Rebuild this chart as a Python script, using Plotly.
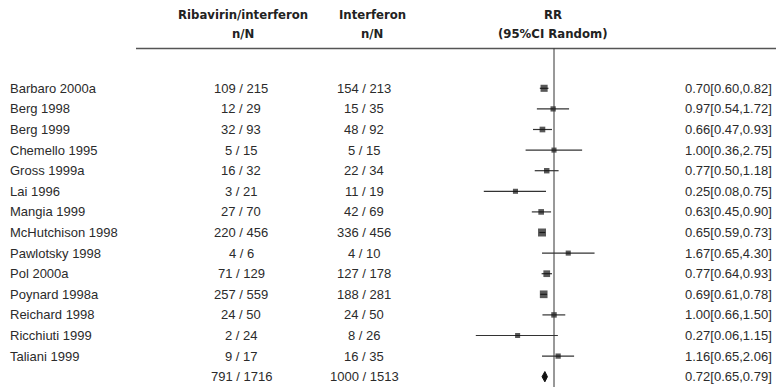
import math
import plotly.graph_objects as go

studies = ["Barbaro 2000a", "Berg 1998", "Berg 1999", "Chemello 1995", "Gross 1999a",
           "Lai 1996", "Mangia 1999", "McHutchison 1998", "Pawlotsky 1998", "Pol 2000a",
           "Poynard 1998a", "Reichard 1998", "Ricchiuti 1999", "Taliani 1999"]
rib_n = [109, 12, 32, 5, 16, 3, 27, 220, 4, 71, 257, 24, 2, 9]
rib_N = [215, 29, 93, 15, 32, 21, 70, 456, 6, 129, 559, 50, 24, 17]
ifn_n = [154, 15, 48, 5, 22, 11, 42, 336, 4, 127, 188, 24, 8, 16]
ifn_N = [213, 35, 92, 15, 34, 19, 69, 456, 10, 178, 281, 50, 26, 35]
rr = [0.70, 0.97, 0.66, 1.00, 0.77, 0.25, 0.63, 0.65, 1.67, 0.77, 0.69, 1.00, 0.27, 1.16]
rr_lo = [0.60, 0.54, 0.47, 0.36, 0.50, 0.08, 0.45, 0.59, 0.65, 0.64, 0.61, 0.66, 0.06, 0.65]
rr_hi = [0.82, 1.72, 0.93, 2.75, 1.18, 0.75, 0.90, 0.73, 4.30, 0.93, 0.78, 1.50, 1.15, 2.06]
pooled_rr = 0.72
pooled_lo = 0.65
pooled_hi = 0.79
headers = ["Ribavirin/interferon", "Interferon", "RR"]
subheaders = ["n/N", "n/N", "(95%CI Random)"]

W, H = 776, 387
X_ONE = 554.0       # pixel of RR = 1
PX_DEC = 64.0       # pixels per decade
ROW0 = 88.3         # pixel of first row
ROW_H = 20.6        # row spacing
LINE_Y = 48.5       # header rule

TXT = "#2b2b2b"
FONT = "Liberation Sans, Arial, sans-serif"
HFONT = "Liberation Sans Narrow, Arial Narrow, DejaVu Sans Condensed, sans-serif"

n = len(studies)
rows = list(range(n))
total_row = n

fig = go.Figure()

# CI lines
lx, ly = [], []
for i in rows:
    lx += [rr_lo[i], rr_hi[i], None]
    ly += [i, i, None]
fig.add_trace(go.Scatter(x=lx, y=ly, mode="lines", line=dict(color="#333333", width=1.2),
                         hoverinfo="skip"))

# box sizes from random-effects-like weights derived from CI widths
tau2 = 0.005
wts = []
for i in rows:
    se = (math.log(rr_hi[i]) - math.log(rr_lo[i])) / 3.92
    wts.append(1.0 / (se * se + tau2))
wmax = max(wts)
sizes = [5 + 3.0 * w / wmax for w in wts]

fig.add_trace(go.Scatter(x=rr, y=rows, mode="markers",
                         marker=dict(symbol="square", size=sizes, color="#111111",
                                     line=dict(width=0)),
                         hoverinfo="skip"))

# pooled diamond
dh = 0.25
fig.add_trace(go.Scatter(x=[pooled_lo, pooled_rr, pooled_hi, pooled_rr, pooled_lo],
                         y=[total_row, total_row - dh, total_row, total_row + dh, total_row],
                         mode="lines", fill="toself", fillcolor="#111111",
                         line=dict(color="#111111", width=1), hoverinfo="skip"))

def px(xp):
    return xp / W

def py(yp):
    return 1 - yp / H

ann = []
col_rib = 241
col_ifn = 364
for i in rows:
    yy = i
    ann.append(dict(x=px(8), y=yy, xref="paper", yref="y", text=studies[i],
                    xanchor="left", yanchor="middle", showarrow=False,
                    font=dict(family=FONT, size=13, color=TXT)))
    ann.append(dict(x=px(col_rib), y=yy, xref="paper", yref="y",
                    text=f"{rib_n[i]} / {rib_N[i]}", xanchor="center", yanchor="middle",
                    showarrow=False, font=dict(family=FONT, size=13, color=TXT)))
    ann.append(dict(x=px(col_ifn), y=yy, xref="paper", yref="y",
                    text=f"{ifn_n[i]} / {ifn_N[i]}", xanchor="center", yanchor="middle",
                    showarrow=False, font=dict(family=FONT, size=13, color=TXT)))
    ann.append(dict(x=px(683), y=yy, xref="paper", yref="y",
                    text=f"{rr[i]:.2f}[{rr_lo[i]:.2f},{rr_hi[i]:.2f}]",
                    xanchor="left", yanchor="middle", showarrow=False,
                    font=dict(family=FONT, size=13, color=TXT)))

ann.append(dict(x=px(col_rib), y=total_row, xref="paper", yref="y",
                text=f"{sum(rib_n)} / {sum(rib_N)}", xanchor="center", yanchor="middle",
                showarrow=False, font=dict(family=FONT, size=13, color=TXT)))
ann.append(dict(x=px(col_ifn), y=total_row, xref="paper", yref="y",
                text=f"{sum(ifn_n)} / {sum(ifn_N)}", xanchor="center", yanchor="middle",
                showarrow=False, font=dict(family=FONT, size=13, color=TXT)))
ann.append(dict(x=px(683), y=total_row, xref="paper", yref="y",
                text=f"{pooled_rr:.2f}[{pooled_lo:.2f},{pooled_hi:.2f}]",
                xanchor="left", yanchor="middle", showarrow=False,
                font=dict(family=FONT, size=13, color=TXT)))

hx = [243, 372, 553]
for k in range(3):
    ann.append(dict(x=px(hx[k]), y=py(15), xref="paper", yref="paper", text=f"<b>{headers[k]}</b>",
                    xanchor="center", yanchor="middle", showarrow=False,
                    font=dict(family=HFONT, size=13, color="#222222")))
    ann.append(dict(x=px(hx[k]), y=py(33), xref="paper", yref="paper", text=f"<b>{subheaders[k]}</b>",
                    xanchor="center", yanchor="middle", showarrow=False,
                    font=dict(family=HFONT, size=13, color="#222222")))

shapes = [
    dict(type="line", xref="paper", yref="paper", x0=px(136), x1=1, y0=py(LINE_Y), y1=py(LINE_Y),
         line=dict(color="#555555", width=1.6)),
    dict(type="line", xref="x", yref="paper", x0=1, x1=1, y0=py(LINE_Y), y1=0,
         line=dict(color="#333333", width=1)),
]

xr = [-X_ONE / PX_DEC, (W - X_ONE) / PX_DEC]
yr = [(H - ROW0) / ROW_H, -ROW0 / ROW_H]

fig.update_layout(
    width=W, height=H, margin=dict(l=0, r=0, t=0, b=0),
    paper_bgcolor="white", plot_bgcolor="white", showlegend=False,
    xaxis=dict(type="log", range=xr, visible=False, fixedrange=True),
    yaxis=dict(range=yr, visible=False, fixedrange=True),
    annotations=ann, shapes=shapes,
)

fig.write_html("out.html", config={"displayModeBar": False},
               post_script="document.body.style.margin='0';document.body.style.padding='0';"
                           "document.body.style.overflow='hidden';")
